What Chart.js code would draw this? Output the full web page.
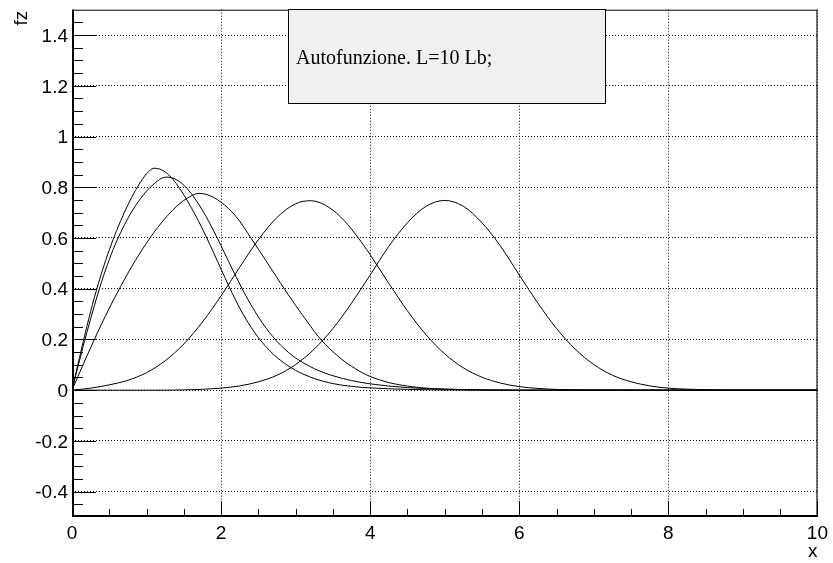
<!DOCTYPE html>
<html>
<head>
<meta charset="utf-8">
<script src="https://cdn.jsdelivr.net/npm/chart.js@4.4.1/dist/chart.umd.min.js"></script>
<style>
  html,body{margin:0;padding:0;background:#fff}
  #wrap{width:833px;height:563px}
</style>
</head>
<body>
<div id="wrap"><canvas id="c" width="833" height="563"></canvas></div>
<script>
// ---- texts / ticks ----
const TITLE   = "Autofunzione. L=10 Lb;";
const X_TITLE = "x";
const Y_TITLE = "fz";
const xTicks      = [0, 2, 4, 6, 8, 10];
const xTickLabels = ["0", "2", "4", "6", "8", "10"];
const yTicks      = [-0.4, -0.2, 0, 0.2, 0.4, 0.6, 0.8, 1, 1.2, 1.4];
const yTickLabels = ["-0.4", "-0.2", "0", "0.2", "0.4", "0.6", "0.8", "1", "1.2", "1.4"];

// ---- curves ----
// 1: highest, peak ~1.1
const x1 = [0, 0.1, 0.2, 0.3, 0.4, 0.5, 0.6, 0.7, 0.8, 0.9, 1.0, 1.1, 1.2, 1.3, 1.4, 1.5, 1.6, 1.7, 1.8, 1.9, 2.0,
            2.1, 2.2, 2.3, 2.4, 2.5, 2.6, 2.7, 2.8, 2.9, 3.0, 3.25, 3.5, 3.75, 4.0, 4.5, 5, 6, 10];
const f1 = [0, 0.128, 0.252, 0.365, 0.465, 0.553, 0.63, 0.699, 0.76, 0.812, 0.853, 0.875, 0.869, 0.848, 0.814, 0.77, 0.72, 0.665, 0.605, 0.542, 0.477,
            0.413, 0.352, 0.297, 0.249, 0.207, 0.172, 0.142, 0.117, 0.096, 0.078, 0.046, 0.026, 0.015, 0.009, 0.003, 0.001, 0, 0];
// 2: peak ~1.27
const x2 = [0, 0.1, 0.2, 0.3, 0.4, 0.5, 0.6, 0.7, 0.8, 0.9, 1.0, 1.1, 1.2, 1.27, 1.4, 1.5, 1.6, 1.7, 1.8, 1.9, 2.0,
            2.1, 2.2, 2.3, 2.4, 2.5, 2.6, 2.7, 2.8, 2.9, 3.0, 3.25, 3.5, 3.75, 4.0, 4.5, 5.0, 5.5, 6, 10];
const f2 = [0, 0.116, 0.228, 0.333, 0.43, 0.515, 0.588, 0.65, 0.703, 0.748, 0.785, 0.813, 0.835, 0.84, 0.83, 0.808, 0.775, 0.733, 0.684, 0.628, 0.569,
            0.508, 0.448, 0.39, 0.337, 0.289, 0.246, 0.209, 0.177, 0.15, 0.127, 0.085, 0.057, 0.038, 0.025, 0.01, 0.004, 0.001, 0, 0];
// 3: peak ~1.7
const x3 = [0, 0.1, 0.2, 0.3, 0.4, 0.5, 0.6, 0.7, 0.8, 0.9, 1.0, 1.1, 1.2, 1.3, 1.4, 1.5, 1.6, 1.7, 1.8, 1.9, 2.0,
            2.1, 2.2, 2.3, 2.4, 2.5, 2.6, 2.7, 2.8, 2.9, 3.0, 3.1, 3.2, 3.3, 3.4, 3.5, 3.6, 3.7, 3.8, 3.9, 4.0,
            4.25, 4.5, 4.75, 5.0, 5.5, 6, 10];
const f3 = [0, 0.068, 0.135, 0.2, 0.263, 0.323, 0.38, 0.435, 0.487, 0.535, 0.58, 0.622, 0.66, 0.694, 0.724, 0.748, 0.766, 0.776, 0.772, 0.76, 0.741,
            0.716, 0.685, 0.645, 0.60, 0.556, 0.511, 0.466, 0.421, 0.377, 0.334, 0.293, 0.252, 0.213, 0.18, 0.152, 0.126, 0.104, 0.085, 0.068, 0.054,
            0.03, 0.016, 0.008, 0.004, 0.001, 0, 0];
// 4: peak ~3.2
const x4 = [0, 0.25, 0.5, 0.75, 1.0, 1.25, 1.5, 1.75, 2.0, 2.25, 2.5, 2.75, 3.0, 3.2, 3.4, 3.6, 3.8, 4.0, 4.25, 4.5, 4.75,
            5.0, 5.25, 5.5, 5.75, 6.0, 6.5, 7, 8, 10];
const f4 = [0, 0.008, 0.021, 0.039, 0.069, 0.116, 0.182, 0.269, 0.372, 0.485, 0.593, 0.681, 0.735, 0.747, 0.729, 0.684, 0.616, 0.534, 0.421, 0.313, 0.218,
            0.143, 0.088, 0.051, 0.028, 0.014, 0.003, 0.001, 0, 0];
// 5: peak ~5.0
const x5 = [0, 1.0, 1.5, 2.0, 2.25, 2.5, 2.75, 3.0, 3.25, 3.5, 3.75, 4.0, 4.25, 4.5, 4.75, 5.0, 5.25, 5.5, 5.75, 6.0,
            6.25, 6.5, 6.75, 7.0, 7.25, 7.5, 7.75, 8.0, 8.5, 9, 10];
const f5 = [0, 0, 0.001, 0.008, 0.017, 0.033, 0.059, 0.101, 0.162, 0.243, 0.343, 0.454, 0.567, 0.66, 0.725, 0.748, 0.725, 0.66, 0.567, 0.454,
            0.343, 0.243, 0.162, 0.101, 0.059, 0.033, 0.017, 0.008, 0.002, 0, 0];

const curves = [[x1, f1], [x2, f2], [x3, f3], [x4, f4], [x5, f5]];

const SANS  = '"Liberation Sans", Arial, Helvetica, sans-serif';
const SERIF = '"Liberation Serif", "Times New Roman", serif';

// ---- ROOT-style frame, inner ticks, title box, axis titles ----
const rootDecor = {
  id: "rootDecor",
  afterDraw(chart){
    const {ctx, chartArea: ca} = chart;
    const sx = chart.scales.x, sy = chart.scales.y;
    ctx.save();
    ctx.strokeStyle = "#000";
    ctx.lineWidth = 1;
    ctx.setLineDash([]);

    // y ticks every 0.05, long ones every 0.2
    for(let k=-9;k<=29;k++){
      const py = Math.round(sy.getPixelForValue(k*0.05)) + 0.5;
      const len = (k%4===0) ? 24 : 11;
      ctx.beginPath(); ctx.moveTo(ca.left, py); ctx.lineTo(ca.left+len, py); ctx.stroke();
    }
    // x ticks every 0.5, long ones every 2
    for(let k=0;k<=20;k++){
      const px = Math.round(sx.getPixelForValue(k*0.5)) + 0.5;
      const len = (k%4===0) ? 16 : 8;
      ctx.beginPath(); ctx.moveTo(px, ca.bottom); ctx.lineTo(px, ca.bottom-len); ctx.stroke();
    }

    // frame
    ctx.strokeRect(ca.left+0.5, ca.top+0.5, ca.right-ca.left-1, ca.bottom-ca.top-1);
    ctx.lineWidth = 2;
    ctx.beginPath(); ctx.moveTo(ca.left+1, ca.top); ctx.lineTo(ca.left+1, ca.bottom); ctx.stroke();
    ctx.beginPath(); ctx.moveTo(ca.left, ca.bottom-1); ctx.lineTo(ca.right, ca.bottom-1); ctx.stroke();

    // title box
    ctx.lineWidth = 1;
    ctx.fillStyle = "#f0f0f0";
    ctx.fillRect(288, 9, 318, 95);
    ctx.strokeRect(288.5, 9.5, 317, 94);
    ctx.fillStyle = "#000";
    ctx.font = "20px " + SERIF;
    ctx.textAlign = "left";
    ctx.textBaseline = "alphabetic";
    ctx.fillText(TITLE, 296, 64);

    // axis titles
    ctx.font = "19px " + SANS;
    ctx.textAlign = "right";
    ctx.fillText(X_TITLE, ca.right, 557);
    ctx.translate(27, ca.top+1);
    ctx.rotate(-Math.PI/2);
    ctx.fillText(Y_TITLE, 0, 0);
    ctx.restore();
  }
};

new Chart(document.getElementById("c"), {
  type: "line",
  data: {
    datasets: curves.map(([xs, ys]) => ({
      data: xs.map((x, i) => ({x, y: ys[i]})),
      borderColor: "#000",
      borderWidth: 1,
      pointRadius: 0,
      fill: false,
      cubicInterpolationMode: "monotone"
    }))
  },
  options: {
    responsive: false,
    animation: false,
    devicePixelRatio: 1,
    layout: { padding: { top: 9, right: 12, left: 0, bottom: 0 } },
    plugins: { legend: {display:false}, tooltip: {enabled:false}, title: {display:false} },
    scales: {
      x: {
        type: "linear", min: 0, max: 10,
        afterBuildTicks: s => { s.ticks = xTicks.map(v => ({value: v})); },
        afterFit: s => { s.height = 46; },
        ticks: {
          color: "#000", padding: 5, maxRotation: 0, autoSkip: false,
          font: {family: SANS, size: 19},
          callback: v => xTickLabels[xTicks.indexOf(v)]
        },
        grid: { color: "#000", lineWidth: 1, drawTicks: false },
        border: { display: false, dash: [1, 2] }
      },
      y: {
        type: "linear", min: -0.5, max: 1.5,
        afterBuildTicks: s => { s.ticks = yTicks.map(v => ({value: v})); },
        afterFit: s => { s.width = 72; },
        ticks: {
          color: "#000", padding: 4, autoSkip: false, labelOffset: 1.5,
          font: {family: SANS, size: 19, lineHeight: 0.6},
          callback: v => yTickLabels[yTicks.indexOf(v)]
        },
        grid: { color: "#000", lineWidth: 1, drawTicks: false },
        border: { display: false, dash: [1, 2] }
      }
    }
  },
  plugins: [rootDecor]
});
</script>
</body>
</html>
